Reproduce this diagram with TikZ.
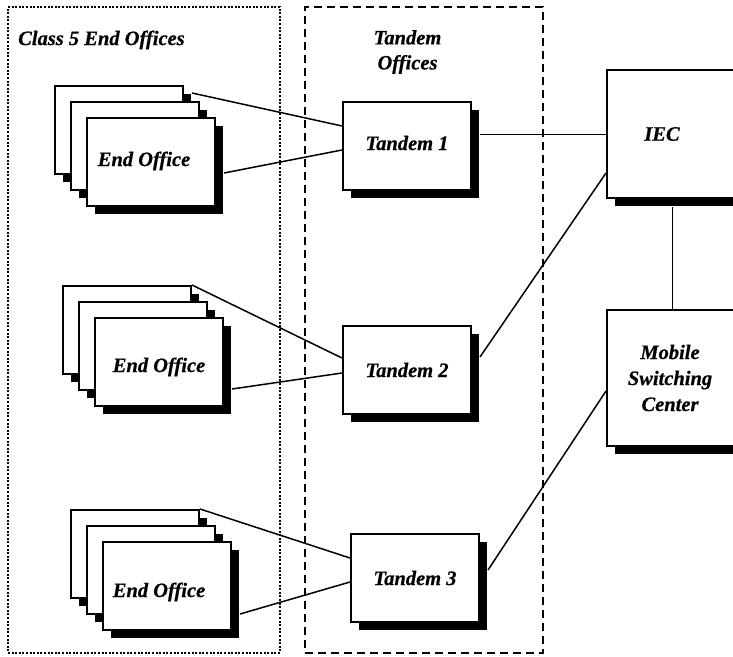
\documentclass[tikz,border=0pt]{standalone}
\usepackage{fontspec}
\setmainfont{Liberation Serif}
\newfontfamily\lblfont[FakeBold=0.6]{Liberation Serif Bold Italic}
\usetikzlibrary{shadows}

\tikzset{
  lbl/.style={font=\lblfont\fontsize{20.5}{25}\selectfont, align=center, inner sep=0pt},
  card/.style={draw, line width=2pt, fill=white, rectangle, inner sep=0pt,
    minimum width=128pt, minimum height=88pt,
    drop shadow={shadow xshift=8pt, shadow yshift=-8pt, opacity=1, fill=black}},
  bigbox/.style={card, minimum width=133pt},
  link/.style={line width=1.5pt},
  thinlink/.style={line width=1pt},
  dotframe/.style={draw, line width=2pt, dash pattern=on 2pt off 1.6pt, rectangle,
    inner sep=0pt, minimum width=272pt, minimum height=646pt},
  dashframe/.style={draw, line width=2pt, dash pattern=on 8pt off 5pt, rectangle,
    inner sep=0pt, minimum width=238pt, minimum height=646pt},
}

\begin{document}
\begin{tikzpicture}[x=1pt, y=-1pt, every label/.style={lbl}]
\useasboundingbox (0,0) rectangle (733,656);
\clip (0,0) rectangle (733,656);

% grouping frames
\node[dotframe] (c5) at (144,330) {};
\node[dashframe] (tf) at (424,330) {};
\node[lbl, anchor=west] (c5t) at (18,40) {Class 5 End Offices};
\node[lbl] (tft) at (407.5,52) {Tandem\\Offices};

% end office stacks, back to front
\node[card] (e1a) at (119,130) {};
\node[card] (e1b) at (135,146) {};
\node[card, label={[xshift=-7pt, yshift=1pt]center:End Office}] (e1c) at (151,162) {};

\node[card] (e2a) at (127,330) {};
\node[card] (e2b) at (143,346) {};
\node[card, label={[yshift=-5pt]center:End Office}] (e2c) at (159,362) {};

\node[card] (e3a) at (135,554) {};
\node[card] (e3b) at (151,570) {};
\node[card, label={[xshift=-8pt, yshift=-6pt]center:End Office}] (e3c) at (167,586) {};

% tandem switches
\node[card, label={[yshift=3pt]center:Tandem 1}] (t1) at (407,146) {};
\node[card, label={center:Tandem 2}] (t2) at (407,370) {};
\node[card, label={center:Tandem 3}] (t3) at (415,578) {};

% toll and mobile offices
\node[bigbox, minimum height=128pt, label={[xshift=-11.5pt]center:IEC}] (iec) at (673.5,134) {};
\node[bigbox, minimum height=136pt, label={[xshift=-3.5pt]center:Mobile\\[1pt]Switching\\[1pt]Center}] (msc) at (673.5,378) {};

% trunks from end offices to tandems
\draw[link] ([xshift=8pt, yshift=-8pt]e1a.north east) -- ([yshift=20pt]t1.west);
\draw[link] ([xshift=8pt, yshift=-11pt]e1c.east) -- ([yshift=-4pt]t1.west);
\draw[link] (e2a.north east) -- ([yshift=12pt]t2.west);
\draw[link] ([xshift=8pt, yshift=-27pt]e2c.east) -- ([yshift=-3pt]t2.west);
\draw[link] (e3a.north east) -- ([yshift=20pt]t3.west);
\draw[link] ([xshift=8pt, yshift=-28pt]e3c.east) -- ([yshift=-4pt]t3.west);

% tandem to IEC / MSC trunks
\draw[thinlink] ([xshift=8pt, yshift=12pt]t1.east) -- (iec.west);
\draw[link] ([xshift=8pt, yshift=13pt]t2.east) -- ([yshift=-39pt]iec.west);
\draw[link] ([xshift=8pt, yshift=8pt]t3.east) -- ([yshift=-13pt]msc.west);
\draw[thinlink] ([xshift=-1.5pt, yshift=-8pt]iec.south) -- ([xshift=-1.5pt]msc.north);
\end{tikzpicture}
\end{document}
